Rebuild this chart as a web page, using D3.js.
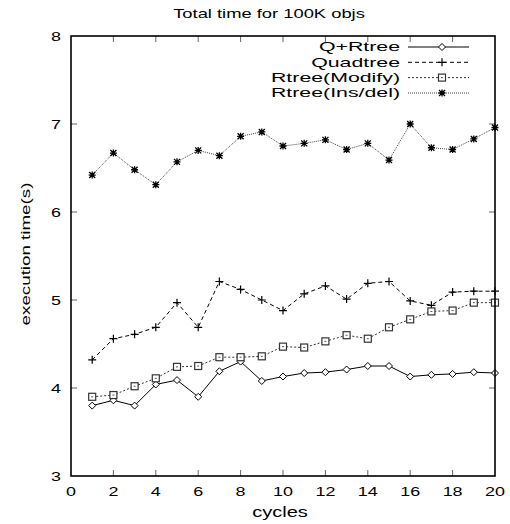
<!DOCTYPE html>
<html><head><meta charset="utf-8">
<script src="https://cdn.jsdelivr.net/npm/d3@7"></script>
<style>body{margin:0;background:#fff}</style>
</head><body>
<script>
const cycles = d3.range(1, 21);
const qRtree = [3.80,3.86,3.80,4.04,4.09,3.90,4.19,4.30,4.08,4.13,4.17,4.18,4.21,4.25,4.25,4.13,4.15,4.16,4.18,4.17];
const quadtree = [4.32,4.56,4.61,4.69,4.97,4.69,5.21,5.12,5.00,4.88,5.07,5.16,5.01,5.19,5.21,4.99,4.94,5.09,5.10,5.10];
const rtreeModify = [3.90,3.92,4.02,4.11,4.24,4.25,4.35,4.35,4.36,4.47,4.46,4.53,4.60,4.56,4.69,4.78,4.87,4.88,4.97,4.97];
const rtreeInsDel = [6.42,6.67,6.48,6.31,6.57,6.70,6.64,6.86,6.91,6.75,6.78,6.82,6.71,6.78,6.59,7.00,6.73,6.71,6.83,6.96];
const seriesNames = ["Q+Rtree","Quadtree","Rtree(Modify)","Rtree(Ins/del)"];
const xTicks = d3.range(0, 21, 2);
const yTicks = [3,4,5,6,7,8];

const W = 510, H = 524;
const m = {l:71, r:15, t:36, b:48};
const SX = 1.38;
const svg = d3.select("body").append("svg").attr("width", W).attr("height", H)
  .style("font-family", "'Liberation Sans', Arial, sans-serif");
const x = d3.scaleLinear().domain([0,20]).range([m.l, W - m.r]);
const y = d3.scaleLinear().domain([3,8]).range([H - m.b, m.t]);

function txt(px, py, s, size, anchor, rot, sx) {
  const g = svg.append("g").attr("transform", `translate(${px},${py})` + (rot ? ` rotate(${rot})` : "") + ` scale(${sx || SX},1)`);
  g.append("text").attr("text-anchor", anchor).attr("dominant-baseline", "central")
    .attr("font-size", size).attr("fill", "#000").text(s);
}

// ticks (mirrored, inward)
const tk = 6;
xTicks.forEach(v => {
  if (v === 0 || v === 20) return;
  svg.append("line").attr("x1", x(v)).attr("x2", x(v)).attr("y1", y(3)).attr("y2", y(3) - tk).attr("stroke", "#666");
  svg.append("line").attr("x1", x(v)).attr("x2", x(v)).attr("y1", y(8)).attr("y2", y(8) + tk).attr("stroke", "#666");
});
yTicks.forEach(v => {
  if (v === 3 || v === 8) return;
  svg.append("line").attr("x1", x(0)).attr("x2", x(0) + tk).attr("y1", y(v)).attr("y2", y(v)).attr("stroke", "#666");
  svg.append("line").attr("x1", x(20)).attr("x2", x(20) - tk).attr("y1", y(v)).attr("y2", y(v)).attr("stroke", "#666");
});

xTicks.forEach(v => txt(x(v), y(3) + 15, String(v), 13, "middle"));
yTicks.forEach(v => txt(x(0) - 10, y(v), String(v), 13, "end"));

txt(269, 13, "Total time for 100K objs", 13.3, "middle");
txt(280, 512, "cycles", 14.5, "middle");
txt(25, 254, "execution time(s)", 13.6, "middle", -90);

const styles = [
  {data: qRtree, dash: null, color: "#000", w: 1, marker: "diamond"},
  {data: quadtree, dash: "4,3", color: "#000", w: 1, marker: "plus"},
  {data: rtreeModify, dash: "2,2", color: "#333", w: 1, marker: "square"},
  {data: rtreeInsDel, dash: "1,1", color: "#444", w: 1, marker: "star"}
];

function marker(g, type, cx, cy) {
  if (type === "diamond") {
    g.append("path").attr("d", `M${cx},${cy-3.5}L${cx+3.5},${cy}L${cx},${cy+3.5}L${cx-3.5},${cy}Z`)
      .attr("fill", "#fff").attr("stroke", "#000").attr("stroke-width", 1);
  } else if (type === "plus") {
    g.append("path").attr("d", `M${cx-4},${cy}H${cx+4}M${cx},${cy-4}V${cy+4}`)
      .attr("stroke", "#000").attr("stroke-width", 1.2);
  } else if (type === "square") {
    g.append("rect").attr("x", cx - 3.5).attr("y", cy - 3.5).attr("width", 7).attr("height", 7)
      .attr("fill", "#fff").attr("stroke", "#333").attr("stroke-width", 1.2);
    g.append("rect").attr("x", cx - 1).attr("y", cy - 0.5).attr("width", 2).attr("height", 1).attr("fill", "#555");
  } else {
    g.append("path").attr("d", `M${cx-3},${cy-3}L${cx+3},${cy+3}M${cx-3},${cy+3}L${cx+3},${cy-3}M${cx-3.5},${cy}H${cx+3.5}M${cx},${cy-3.5}V${cy+3.5}`)
      .attr("stroke", "#000").attr("stroke-width", 1.3);
  }
}

const line = d3.line().x((d,i) => x(cycles[i])).y(d => y(d));
styles.forEach(s => {
  const p = svg.append("path").datum(s.data).attr("d", line).attr("fill", "none")
    .attr("stroke", s.color).attr("stroke-width", s.w);
  if (s.dash) p.attr("stroke-dasharray", s.dash);
  const g = svg.append("g");
  s.data.forEach((d,i) => marker(g, s.marker, x(cycles[i]), y(d)));
});

// legend
const legY = [47, 62.3, 77.6, 93];
styles.forEach((s, i) => {
  txt(400, legY[i], seriesNames[i], 13, "end", 0, 1.64);
  const l = svg.append("line").attr("x1", 408).attr("x2", 469).attr("y1", legY[i]).attr("y2", legY[i])
    .attr("stroke", s.color).attr("stroke-width", s.w);
  if (s.dash) l.attr("stroke-dasharray", s.dash);
  marker(svg.append("g"), s.marker, 442, legY[i]);
});

// border
svg.append("rect").attr("x", x(0)).attr("y", y(8)).attr("width", x(20) - x(0)).attr("height", y(3) - y(8))
  .attr("fill", "none").attr("stroke", "#000").attr("stroke-width", 1.6);
</script>
</body></html>
